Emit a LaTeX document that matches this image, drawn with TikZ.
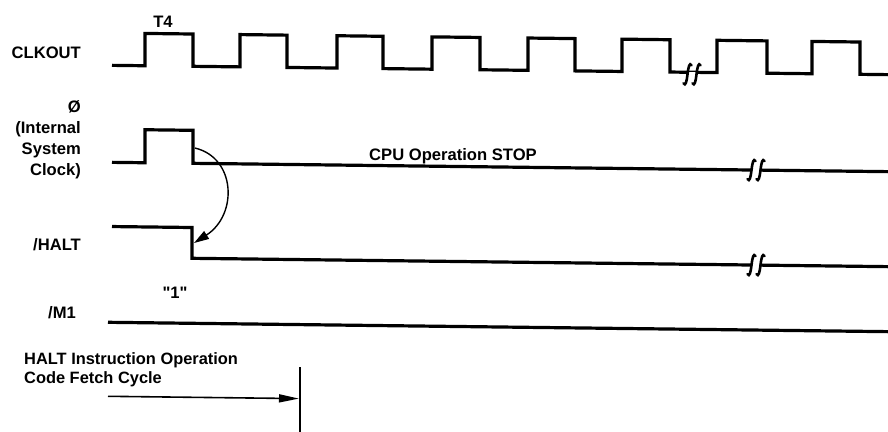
\documentclass[tikz,border=0pt]{standalone}
\usepackage{fontspec}
\setmainfont{Liberation Sans}
\usetikzlibrary{arrows.meta}
\begin{document}
\begin{tikzpicture}[x=1pt,y=-1pt,
  sig/.style={line width=3.2pt},
  brkline/.style={line width=2.6pt, line cap=round},
  lbl/.style={font=\bfseries\fontsize{16.6}{21}\selectfont, inner sep=0pt},
  brk/.pic={
    \fill[white] (-4,-2.8) rectangle (4,2.8);
    \draw[brkline] (-8.5,9) .. controls (-6.5,12) and (-5.5,8) .. (-4.5,0) .. controls (-3.5,-8) and (-2.5,-12) .. (-0.5,-9);
    \draw[brkline] (0.5,9) .. controls (2.5,12) and (3.5,8) .. (4.5,0) .. controls (5.5,-8) and (6.5,-12) .. (8.5,-9);
  }
]
\useasboundingbox (0,0) rectangle (888,431);
\fill[white] (0,0) rectangle (888,431);

% labels
\node[lbl] (t4) at (163,22) {T4};
\node[lbl, anchor=east] (clk) at (81,53) {CLKOUT};
\node[lbl, anchor=east, align=right] (phi) at (81,140) {Ø\\(Internal\\System\\Clock)};
\node[lbl, anchor=east] (halt) at (81,245) {/HALT};
\node[lbl] (m1) at (62,313) {/M1};
\node[lbl] (one) at (175,293) {\addfontfeatures{Ligatures=TeXOff}"1"};
\node[lbl] (stop) at (453,156.5) {CPU Operation STOP};
\node[lbl, anchor=west, align=left, font=\bfseries\fontsize{16.4}{18.5}\selectfont] (fetch) at (24,370) {HALT Instruction Operation\\Code Fetch Cycle};

\begin{scope}[yslant=-0.012]
  % CLKOUT
  \draw[sig] (112,64) -- (145,64) -- (145,31.7) -- (193,31.7) -- (193,64) -- (240,64) -- (240,31.7) -- (287,31.7) -- (287,64)
    -- (337,64) -- (337,31.7) -- (383,31.7) -- (383,64) -- (432,64) -- (432,31.7) -- (480,31.7) -- (480,64)
    -- (528,64) -- (528,31.7) -- (575,31.7) -- (575,64) -- (622,64) -- (622,31.7) -- (670,31.7) -- (670,64)
    -- (717,64) -- (717,31.7) -- (767,31.7) -- (767,64) -- (812,64) -- (812,31.7) -- (860,31.7) -- (860,64) -- (888,64);
  \pic at (692,66) {brk};
  % phi
  \draw[sig] (112,161) -- (145,161) -- (145,128) -- (193,128) -- (193,161) -- (888,161);
  \pic at (756,161) {brk};
  % HALT
  \draw[sig] (112,225.2) -- (192,225.2) -- (192,256) -- (888,256);
  \pic at (756,256) {brk};
  % M1
  \draw[sig] (108,321) -- (888,321);

  \coordinate (phifall) at (195,145.7);
  \coordinate (haltfall) at (194,240.7);
  \draw[line width=1.4pt, -{Triangle[length=15pt,width=9pt]}] (phifall) .. controls (236,155) and (238,212) .. (haltfall);

  \coordinate (fs) at (108,395);
  \coordinate (fe) at (299,395);
  \coordinate (vt) at (300,363.4);
  \coordinate (vb) at (300,436);
  \draw[line width=1.6pt, -{Triangle[length=20pt,width=8pt]}] (fs) -- (fe);
  \draw[line width=2pt] (vt) -- (vb);
\end{scope}
\end{tikzpicture}
\end{document}
